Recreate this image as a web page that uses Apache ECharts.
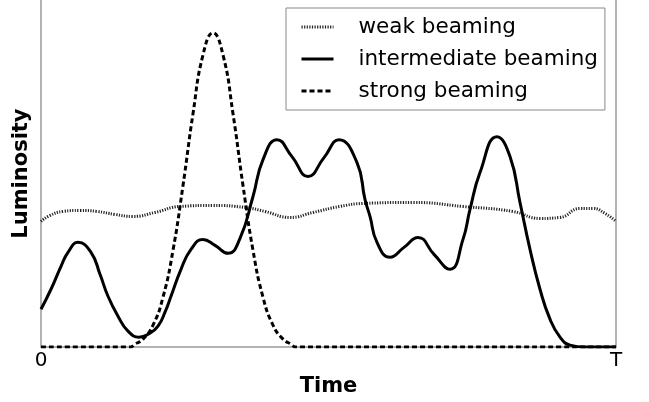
<!DOCTYPE html>
<html>
<head>
<meta charset="utf-8">
<script src="https://cdn.jsdelivr.net/npm/echarts@6/dist/echarts.min.js"></script>
<style>html,body{margin:0;padding:0;background:#fff}#c{width:649px;height:402px}</style>
</head>
<body>
<div id="c"></div>
<script>
// time in plot units (0..575 = 0..T), luminosity in arbitrary units
var weakT = [0,9,22,39,56,74,92,114,139,172,204,224,249,272,299,322,372,422,472,499,519,539,552,564,575];
var weakL = [126,132,136,137,136,133,131,135,141,142,140,136,130,135,141,144,145,141,136,129,130,139,139,134,126];

var interT = [0,10,20,27,37,50,59,67,77,87,98,109,117,124,130,140,150,162,174,187,199,212,222,236,251,267,283,298,316,324,329,336,349,363,377,393,409,422,429,439,456,469,479,489,499,509,519,529,544,575];
var interL = [38,58,81,95,105,95,73,51,31,16,10,14,21,35,51,78,98,108,102,94,109,151,188,208,191,171,190,208,185,148,131,105,90,100,110,93,78,108,138,175,211,191,145,98,58,28,10,2,0,0];

var strongT = [0,89,94,102,112,122,132,142,152,162,172,182,192,202,212,222,232,242,250,255,575];
var strongL = [0,0,3,8,22,50,97,162,234,293,315,293,234,162,97,50,22,8,3,0,0];

var seriesNames = ['weak beaming','intermediate beaming','strong beaming'];
var xTickLabels = ['0','T'];

function pairs(t, l){ return t.map(function(v,i){ return [v, l[i]]; }); }

var chart = echarts.init(document.getElementById('c'));
var font = 'DejaVu Sans';
chart.setOption({
  animation: false,
  grid: {left: 41, right: 33, top: 0, bottom: 54},
  legend: {
    orient: 'vertical',
    left: 286, top: 8,
    padding: [8, 7, 8, 14],
    itemWidth: 32, itemHeight: 20, itemGap: 10,
    borderColor: '#888', borderWidth: 1, borderRadius: 0,
    backgroundColor: '#fff',
    itemStyle: {opacity: 0},
    lineStyle: {width: 3},
    textStyle: {fontFamily: font, fontSize: 21.5, color: '#000', padding: [0,0,0,20]},
    data: seriesNames
  },
  xAxis: {
    type: 'value', min: 0, max: 575, interval: 575,
    name: 'Time', nameLocation: 'middle', nameGap: 26,
    nameTextStyle: {fontFamily: font, fontSize: 21, fontWeight: 'bold', color: '#000'},
    axisLine: {show: true, lineStyle: {color: '#999', width: 1.5}},
    axisTick: {show: false},
    splitLine: {show: false},
    axisLabel: {fontFamily: font, fontSize: 20, color: '#000', margin: 4,
      formatter: function(v){ return v === 0 ? xTickLabels[0] : xTickLabels[1]; }}
  },
  yAxis: [{
    type: 'value', min: 0, max: 348,
    name: 'Luminosity', nameLocation: 'middle', nameGap: 9,
    nameTextStyle: {fontFamily: font, fontSize: 21, fontWeight: 'bold', color: '#000'},
    axisLine: {show: true, lineStyle: {color: '#999', width: 1.5}},
    axisTick: {show: false}, axisLabel: {show: false}, splitLine: {show: false}
  }, {
    type: 'value', min: 0, max: 348, position: 'right',
    axisLine: {show: true, lineStyle: {color: '#999', width: 1.5}},
    axisTick: {show: false}, axisLabel: {show: false}, splitLine: {show: false}
  }],
  series: [{
    name: seriesNames[0], type: 'line', symbol: 'none', smooth: 0.5, z: 3,
    lineStyle: {color: '#222', width: 3, type: [1.2, 1.4]},
    itemStyle: {color: '#222'},
    data: pairs(weakT, weakL)
  }, {
    name: seriesNames[1], type: 'line', symbol: 'none', smooth: 0.5, z: 4,
    lineStyle: {color: '#000', width: 3},
    itemStyle: {color: '#000'},
    data: pairs(interT, interL)
  }, {
    name: seriesNames[2], type: 'line', symbol: 'none', smooth: 0.5, z: 5,
    lineStyle: {color: '#000', width: 3, type: [5, 3]},
    itemStyle: {color: '#000'},
    data: pairs(strongT, strongL)
  }]
});
</script>
</body>
</html>
